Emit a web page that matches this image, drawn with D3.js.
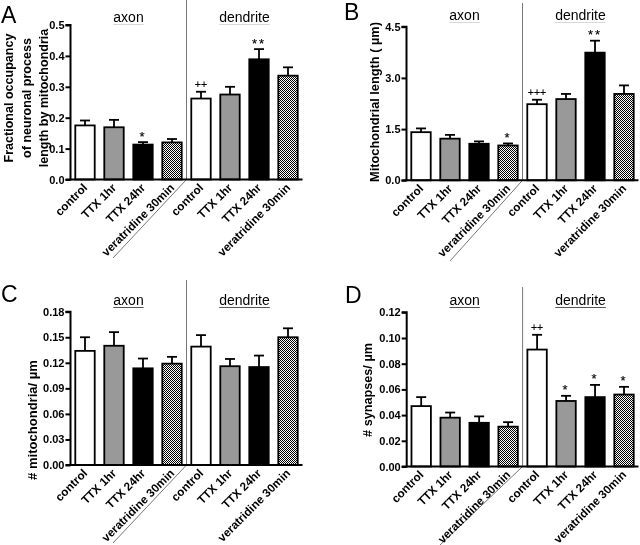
<!DOCTYPE html>
<html><head><meta charset="utf-8">
<script src="https://cdn.jsdelivr.net/npm/d3@7"></script>
<style>
html,body{margin:0;padding:0;background:#fff;}
svg{display:block;filter:grayscale(100%);}
text{font-family:"Liberation Sans",Arial,sans-serif;fill:#000;}
</style></head>
<body>
<svg id="fig" width="640" height="545"></svg>
<script>
// ---------- data ----------
const categories = ["control","TTX 1hr","TTX 24hr","veratridine 30min","control","TTX 1hr","TTX 24hr","veratridine 30min"];
const groups = ["axon","dendrite"];

const occupancyMean = [0.175, 0.169, 0.113, 0.120, 0.262, 0.275, 0.389, 0.336];
const occupancySem  = [0.016, 0.024, 0.008, 0.011, 0.022, 0.025, 0.033, 0.027];
const occupancyMarks = ["", "", "*", "", "++", "", "**", ""];
const occupancyTicks = [0, 0.1, 0.2, 0.3, 0.4, 0.5];

const lengthMean = [1.41, 1.22, 1.07, 1.02, 2.23, 2.38, 3.74, 2.53];
const lengthSem  = [0.11, 0.11, 0.07, 0.06, 0.13, 0.15, 0.35, 0.25];
const lengthMarks = ["", "", "", "*", "+++", "", "**", ""];
const lengthTicks = [0, 1.5, 3.0, 4.5];

const mitoMean = [0.134, 0.140, 0.1135, 0.119, 0.139, 0.116, 0.115, 0.150];
const mitoSem  = [0.016, 0.016, 0.0115, 0.008, 0.0135, 0.0085, 0.0135, 0.0105];
const mitoMarks = ["", "", "", "", "", "", "", ""];
const mitoTicks = [0, 0.03, 0.06, 0.09, 0.12, 0.15, 0.18];

const synMean = [0.047, 0.038, 0.034, 0.031, 0.091, 0.051, 0.054, 0.056];
const synSem  = [0.007, 0.004, 0.005, 0.0035, 0.0115, 0.004, 0.0095, 0.006];
const synMarks = ["", "", "", "", "++", "*", "*", "*"];
const synTicks = [0, 0.02, 0.04, 0.06, 0.08, 0.10, 0.12];

// ---------- layout ----------
const svg = d3.select("#fig");
const defs = svg.append("defs");
const pat = defs.append("pattern").attr("id","checker").attr("patternUnits","userSpaceOnUse")
  .attr("width",2).attr("height",2);
pat.append("rect").attr("width",2).attr("height",2).attr("fill","#fff");
pat.append("rect").attr("x",0).attr("y",0).attr("width",1).attr("height",1).attr("fill","#000");
pat.append("rect").attr("x",1).attr("y",1).attr("width",1).attr("height",1).attr("fill","#000");

const fills = ["#ffffff", "#999999", "#000000", "url(#checker)"];

function fitSize(str, target, weight) {
  const t = svg.append("text").attr("font-size",20).attr("font-weight",weight).text(str);
  const w = t.node().getComputedTextLength();
  t.remove();
  return 20 * target / w;
}
const xLabelSize = 11.7;

const panels = [
  {letter:"A", lx:1, ly:23, means:occupancyMean, sem:occupancySem, marks:occupancyMarks, ticks:occupancyTicks, fmt:".1f",
   ax:70.5, top:25, base:179.5, right:302.5, divTop:0, divEnd:[113,258], grpY:22, underline:"#d8d8d8",
   title:["Fractional occupancy","of neuronal process","length by mitochondria"], tx:[9,26.5,44], ty:98, tlen:129},
  {letter:"B", lx:344, ly:20, means:lengthMean, sem:lengthSem, marks:lengthMarks, ticks:lengthTicks, fmt:".1f",
   ax:406.5, top:26.7, base:180.3, right:638.5, divTop:3, divEnd:[450,261], grpY:20, underline:"#d8d8d8",
   title:["Mitochondrial length ( \u00b5m)"], tx:[375], ty:102, tlen:160},
  {letter:"C", lx:1, ly:302, means:mitoMean, sem:mitoSem, marks:mitoMarks, ticks:mitoTicks, fmt:".2f",
   ax:70.5, top:311.7, base:465, right:302.5, divTop:280, divEnd:[113,543], grpY:305, underline:"#555",
   title:["# mitochondria/ \u00b5m"], tx:[32], ty:420, tlen:120},
  {letter:"D", lx:345, ly:303, means:synMean, sem:synSem, marks:synMarks, ticks:synTicks, fmt:".2f",
   ax:406.7, top:312.3, base:466.5, right:638.5, divTop:287, divEnd:[440,545], grpY:305, underline:"#555",
   title:["# synapses/ \u00b5m"], tx:[368], ty:390, tlen:94}
];

panels.forEach(p => {
  const g = svg.append("g");
  const ymax = p.ticks[p.ticks.length-1];
  const y = d3.scaleLinear().domain([0, ymax]).range([p.base, p.top]);
  const x = d3.scaleBand().domain(d3.range(categories.length)).range([p.ax, p.right])
    .paddingInner(0.33).paddingOuter(0.165);
  const step = x.step();
  const divX = p.ax + 4*step;

  // divider
  g.append("path").attr("d", `M${divX},${p.divTop} L${divX},${p.base} L${p.divEnd[0]},${p.divEnd[1]}`)
    .attr("fill","none").attr("stroke","#777").attr("stroke-width",1);

  // panel letter
  g.append("text").attr("x",p.lx).attr("y",p.ly).attr("font-size",23).text(p.letter);

  // group labels
  groups.forEach((gr,i) => {
    const cx = (x(4*i) + x(4*i+3) + x.bandwidth())/2;
    const t = g.append("text").attr("x",cx).attr("y",p.grpY).attr("text-anchor","middle")
      .attr("font-size",14).text(gr);
    const w = t.node().getComputedTextLength();
    g.append("line").attr("x1",cx-w/2).attr("x2",cx+w/2).attr("y1",p.grpY+2.5).attr("y2",p.grpY+2.5)
      .attr("stroke",p.underline).attr("stroke-width",1);
  });

  const data = p.means.map((m,i)=>({i, m, e:p.sem[i], mark:p.marks[i]}));
  // error bars + significance marks
  const eb = g.append("g");
  data.forEach(d => {
    const cx = x(d.i) + x.bandwidth()/2;
    eb.append("line").attr("x1",cx).attr("x2",cx).attr("y1",y(d.m)).attr("y2",y(d.m+d.e))
      .attr("stroke","#000").attr("stroke-width",1.8);
    eb.append("line").attr("x1",cx-5).attr("x2",cx+5).attr("y1",y(d.m+d.e)).attr("y2",y(d.m+d.e))
      .attr("stroke","#000").attr("stroke-width",1.8);
    if (d.mark) {
      const isPlus = d.mark[0] === "+";
      eb.append("text").attr("x",cx).attr("y",y(d.m+d.e) - (isPlus?4:1.5))
        .attr("text-anchor","middle")
        .attr("stroke","#000").attr("stroke-width",0.15)
        .attr("font-size", isPlus?10.5:13).attr("letter-spacing", isPlus?0:2).text(d.mark);
    }
  });
  // bars
  g.append("g").selectAll("rect").data(data).join("rect")
    .attr("x", d=>x(d.i)).attr("width", x.bandwidth())
    .attr("y", d=>y(d.m)).attr("height", d=>p.base - y(d.m))
    .attr("fill", d=>fills[d.i%4]).attr("stroke","#000").attr("stroke-width",1.8);

  // y axis
  const yAxis = d3.axisLeft(y).tickValues(p.ticks).tickFormat(d3.format(p.fmt)).tickSize(5).tickPadding(1);
  const ya = g.append("g").attr("transform",`translate(${p.ax},0)`).call(yAxis);
  ya.select(".domain").attr("stroke-width",2).attr("d",`M-5,${p.top}H0V${p.base}H-5`);
  ya.selectAll(".tick line").attr("stroke-width",2);
  ya.selectAll(".tick text").attr("font-size",11).attr("font-weight","bold")
    .attr("font-family",'"Liberation Sans",Arial,sans-serif').attr("fill","#000");

  // x axis baseline
  g.append("line").attr("x1",p.ax-1).attr("x2",p.right).attr("y1",p.base).attr("y2",p.base)
    .attr("stroke","#000").attr("stroke-width",2);

  // x tick labels
  categories.forEach((c,i) => {
    const cx = x(i) + x.bandwidth()/2;
    g.append("text").attr("transform",`translate(${cx+3},${p.base+9}) rotate(-45)`)
      .attr("text-anchor","end").attr("font-size",xLabelSize).attr("font-weight","bold").text(c);
  });

  // y title
  const tsize = fitSize(p.title[0], p.tlen, "bold");
  p.title.forEach((t,k) => {
    g.append("text").attr("transform",`translate(${p.tx[k]},${p.ty}) rotate(-90)`)
      .attr("text-anchor","middle").attr("dy","0.35em").attr("font-size",tsize).attr("font-weight","bold").text(t);
  });
});
</script>
</body></html>
